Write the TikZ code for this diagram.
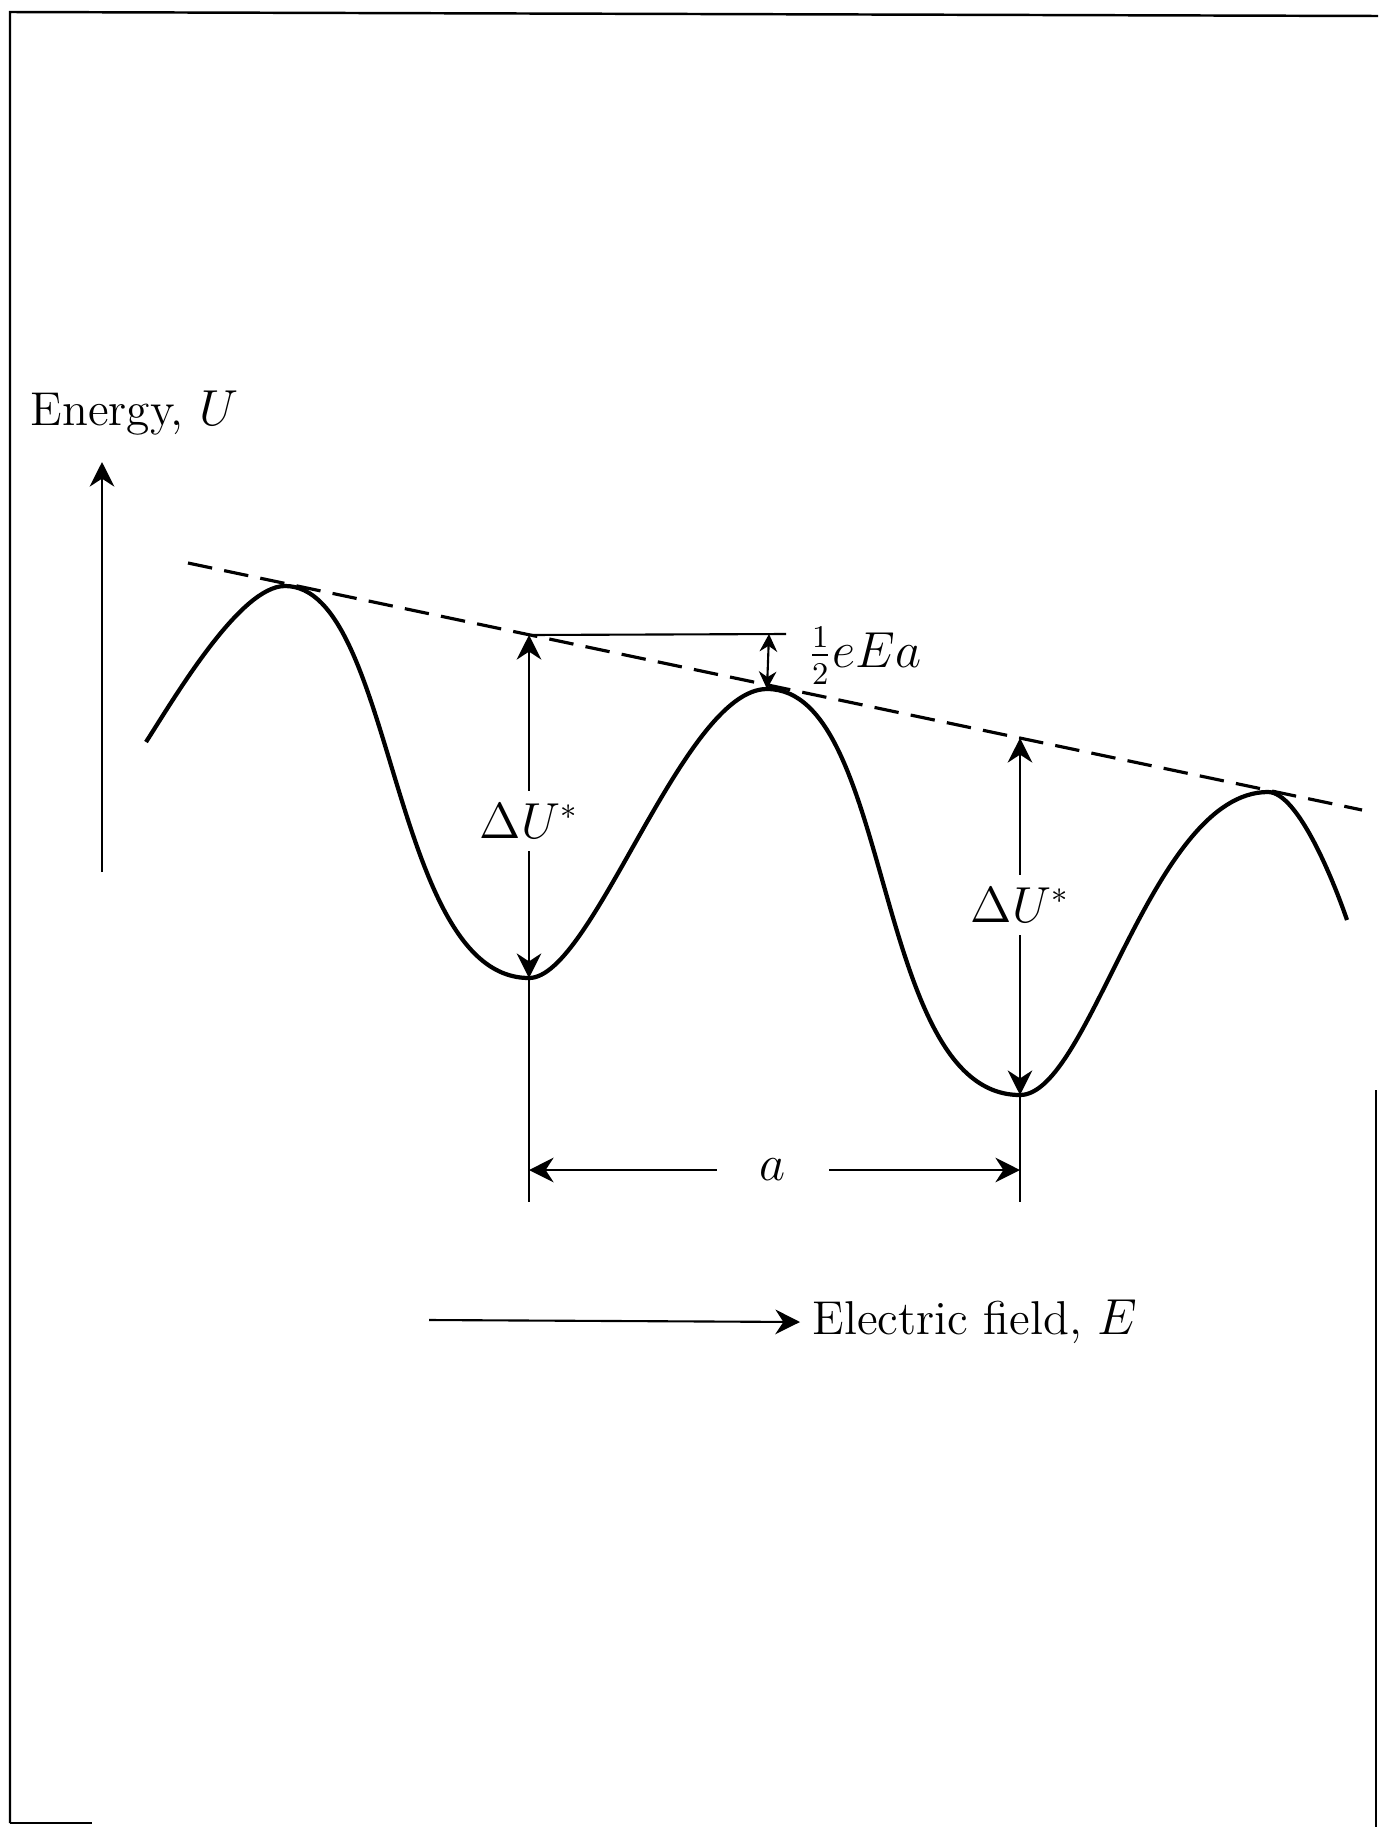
\documentclass[tikz,border=0pt]{standalone}
\usepackage{amsmath}
\usepackage{tikz}
\usetikzlibrary{arrows.meta}

\begin{document}
\begin{tikzpicture}[x=0.01cm, y=-0.01cm, >={Stealth[length=7pt,width=7pt]},
  font=\fontsize{13.5}{16}\selectfont, line width=0.6pt]
  \useasboundingbox (0,0) rectangle (1378,1827);
  \draw[line width=0.7pt] (10,1823)--(10,12)--(1378,16);
  \draw[line width=0.7pt] (10,1823)--(92,1823);
  \draw[line width=0.7pt] (1376,1090)--(1376,1827);

  \coordinate (y0) at (102,872);
  \coordinate (y1) at (102,462);
  \draw[->] (y0)--(y1);
  \node[anchor=base west] (Ulab) at (18,425) {Energy, $U$};

  \coordinate (d0) at (188,563);
  \coordinate (d1) at (1362,810);
  \draw[line width=0.9pt, dash pattern=on 7pt off 3.5pt] (d0)--(d1);

  \coordinate (c0) at (146,742);
  \coordinate (pk1) at (285,586);
  \coordinate (mn1) at (529,978);
  \coordinate (pk2) at (767,689);
  \coordinate (mn2) at (1020,1095);
  \coordinate (pk3) at (1268,792);
  \coordinate (c6) at (1347,920);
  \draw[line width=1.2pt] (c0) .. controls (175,697) and (240,586) .. (pk1)
    .. controls (395,586) and (390,978) .. (mn1)
    .. controls (593,978) and (683,689) .. (pk2)
    .. controls (894,689) and (872,1095) .. (mn2)
    .. controls (1090,1095) and (1151,792) .. (pk3)
    .. controls (1298,792) and (1334,882) .. (c6);

  \coordinate (t1) at (529,635);
  \coordinate (b1) at (529,1202);
  \node (dU1) at (529,821) {$\Delta U^*$};
  \draw[->] (dU1)--(t1);
  \draw[->] (dU1)--(mn1);
  \draw (mn1)--(b1);

  \coordinate (t2) at (1020,738);
  \coordinate (b2) at (1020,1202);
  \node (dU2) at (1020,905) {$\Delta U^*$};
  \draw[->] (dU2)--(t2);
  \draw[->] (dU2)--(mn2);
  \draw (mn2)--(b2);

  \coordinate (h1) at (786,634);
  \coordinate (h2) at (769,634);
  \draw (t1)--(h1);
  \draw[{Stealth[length=5pt,width=5pt]}-{Stealth[length=5pt,width=5pt]}] (h2)--(pk2);
  \node[anchor=west] (half) at (795,656) {$\frac{1}{2}eEa$};

  \coordinate (aL) at (529,1170);
  \coordinate (aR) at (1020,1170);
  \node[inner xsep=12pt] (alab) at (773,1170) {$a$};
  \draw[->] (alab)--(aL);
  \draw[->] (alab)--(aR);

  \coordinate (e0) at (429,1320);
  \node[anchor=west] (Elab) at (800,1322) {Electric field, $E$};
  \draw[->] (e0)--(Elab.west);
\end{tikzpicture}
\end{document}
